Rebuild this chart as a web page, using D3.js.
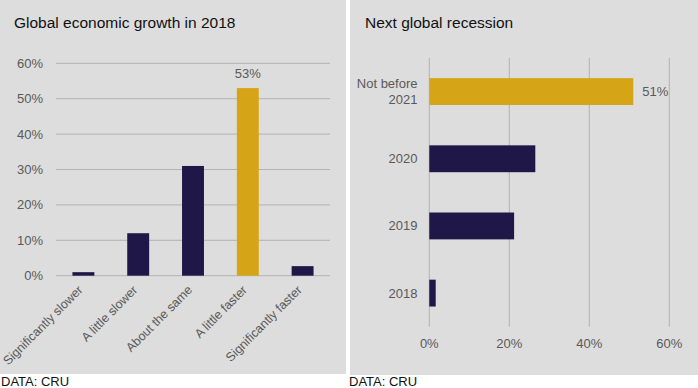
<!DOCTYPE html>
<html>
<head>
<meta charset="utf-8">
<script src="https://cdn.jsdelivr.net/npm/d3@7"></script>
<style>
  body { margin: 0; background: #fff; }
  svg { display: block; font-family: "Liberation Sans", Arial, sans-serif; }
</style>
</head>
<body>
<svg width="698" height="388"></svg>
<script>
// left panel data
let growthCats = ['Significantly slower', 'A little slower', 'About the same', 'A little faster', 'Significantly faster'];
let growthVals = [1, 12, 31, 53, 2.7];
let growthTicks = [0, 10, 20, 30, 40, 50, 60];

// right panel data
let recessionCats = ['Not before 2021', '2020', '2019', '2018'];
let recessionVals = [51, 26.5, 21.2, 1.6];
let recessionTicks = [0, 20, 40, 60];

let navy = '#1f1747', gold = '#d6a517', bg = '#dddddd', grid = '#b3b3b3', txt = '#595959';

let svg = d3.select('svg');

// backgrounds
svg.append('rect').attr('x', 0).attr('y', 0).attr('width', 346).attr('height', 374).attr('fill', bg);
svg.append('rect').attr('x', 350).attr('y', 0).attr('width', 348).attr('height', 375).attr('fill', bg);

// ---------- left: vertical bars ----------
let g1 = svg.append('g');
let x1 = d3.scaleBand().domain(growthCats).range([56, 330]).paddingInner(0.6).paddingOuter(0.3);
let y1 = d3.scaleLinear().domain([0, 60]).range([275.7, 63.3]);

g1.append('text').attr('x', 14).attr('y', 28).text('Global economic growth in 2018')
  .style('font-size', '15.5px').attr('fill', '#111');

g1.selectAll('line.grid').data(growthTicks).enter().append('line')
  .attr('x1', 56).attr('x2', 330)
  .attr('y1', d => y1(d)).attr('y2', d => y1(d))
  .attr('stroke', grid).attr('stroke-width', 1);

g1.selectAll('text.tick').data(growthTicks).enter().append('text')
  .attr('x', 43).attr('y', d => y1(d) + 4.5)
  .attr('text-anchor', 'end').attr('fill', txt).style('font-size', '13px')
  .text(d => d + '%');

g1.selectAll('rect.bar').data(growthVals).enter().append('rect')
  .attr('x', (d, i) => x1(growthCats[i]))
  .attr('width', x1.bandwidth())
  .attr('y', d => y1(d))
  .attr('height', d => y1(0) - y1(d))
  .attr('fill', (d, i) => i == 3 ? gold : navy);

g1.append('text')
  .attr('x', x1(growthCats[3]) + x1.bandwidth() / 2).attr('y', y1(growthVals[3]) - 10)
  .attr('text-anchor', 'middle').attr('fill', txt).style('font-size', '13px')
  .text(growthVals[3] + '%');

g1.selectAll('text.cat').data(growthCats).enter().append('text')
  .attr('transform', d => `translate(${x1(d) + x1.bandwidth() / 2}, ${y1(0) + 15}) rotate(-45)`)
  .attr('text-anchor', 'end').attr('fill', txt).style('font-size', '12.5px')
  .text(d => d);

// ---------- right: horizontal bars ----------
let g2 = svg.append('g');
let x2 = d3.scaleLinear().domain([0, 60]).range([429.3, 669.3]);
let y2 = d3.scaleBand().domain(recessionCats).range([58, 326.7]).paddingInner(0.6).paddingOuter(0.3);

g2.append('text').attr('x', 365).attr('y', 28).text('Next global recession')
  .style('font-size', '15.5px').attr('fill', '#111');

g2.selectAll('line.grid').data(recessionTicks).enter().append('line')
  .attr('x1', d => x2(d)).attr('x2', d => x2(d))
  .attr('y1', 58).attr('y2', 326.7)
  .attr('stroke', grid).attr('stroke-width', 1);

g2.selectAll('text.tick').data(recessionTicks).enter().append('text')
  .attr('x', d => x2(d)).attr('y', 347.5)
  .attr('text-anchor', 'middle').attr('fill', txt).style('font-size', '13px')
  .text(d => d + '%');

g2.selectAll('rect.bar').data(recessionVals).enter().append('rect')
  .attr('y', (d, i) => y2(recessionCats[i]))
  .attr('height', y2.bandwidth())
  .attr('x', x2(0))
  .attr('width', d => x2(d) - x2(0))
  .attr('fill', (d, i) => i == 0 ? gold : navy);

g2.append('text')
  .attr('x', x2(recessionVals[0]) + 9).attr('y', y2(recessionCats[0]) + y2.bandwidth() / 2 + 4.5)
  .attr('fill', txt).style('font-size', '13px')
  .text(recessionVals[0] + '%');

recessionCats.forEach(c => {
  let words = c == 'Not before 2021' ? ['Not before', '2021'] : [c];
  let cy = y2(c) + y2.bandwidth() / 2;
  let t = g2.append('text').attr('text-anchor', 'end').attr('fill', txt).style('font-size', '13px');
  words.forEach((w, i) => {
    t.append('tspan').attr('x', 417.5)
      .attr('y', cy + 4.5 + (i - (words.length - 1) / 2) * 15.5)
      .text(w);
  });
});

// source notes
svg.append('text').attr('x', 1).attr('y', 386).text('DATA: CRU').style('font-size', '13px').attr('fill', '#111');
svg.append('text').attr('x', 349).attr('y', 386).text('DATA: CRU').style('font-size', '13px').attr('fill', '#111');
</script>
</body>
</html>
